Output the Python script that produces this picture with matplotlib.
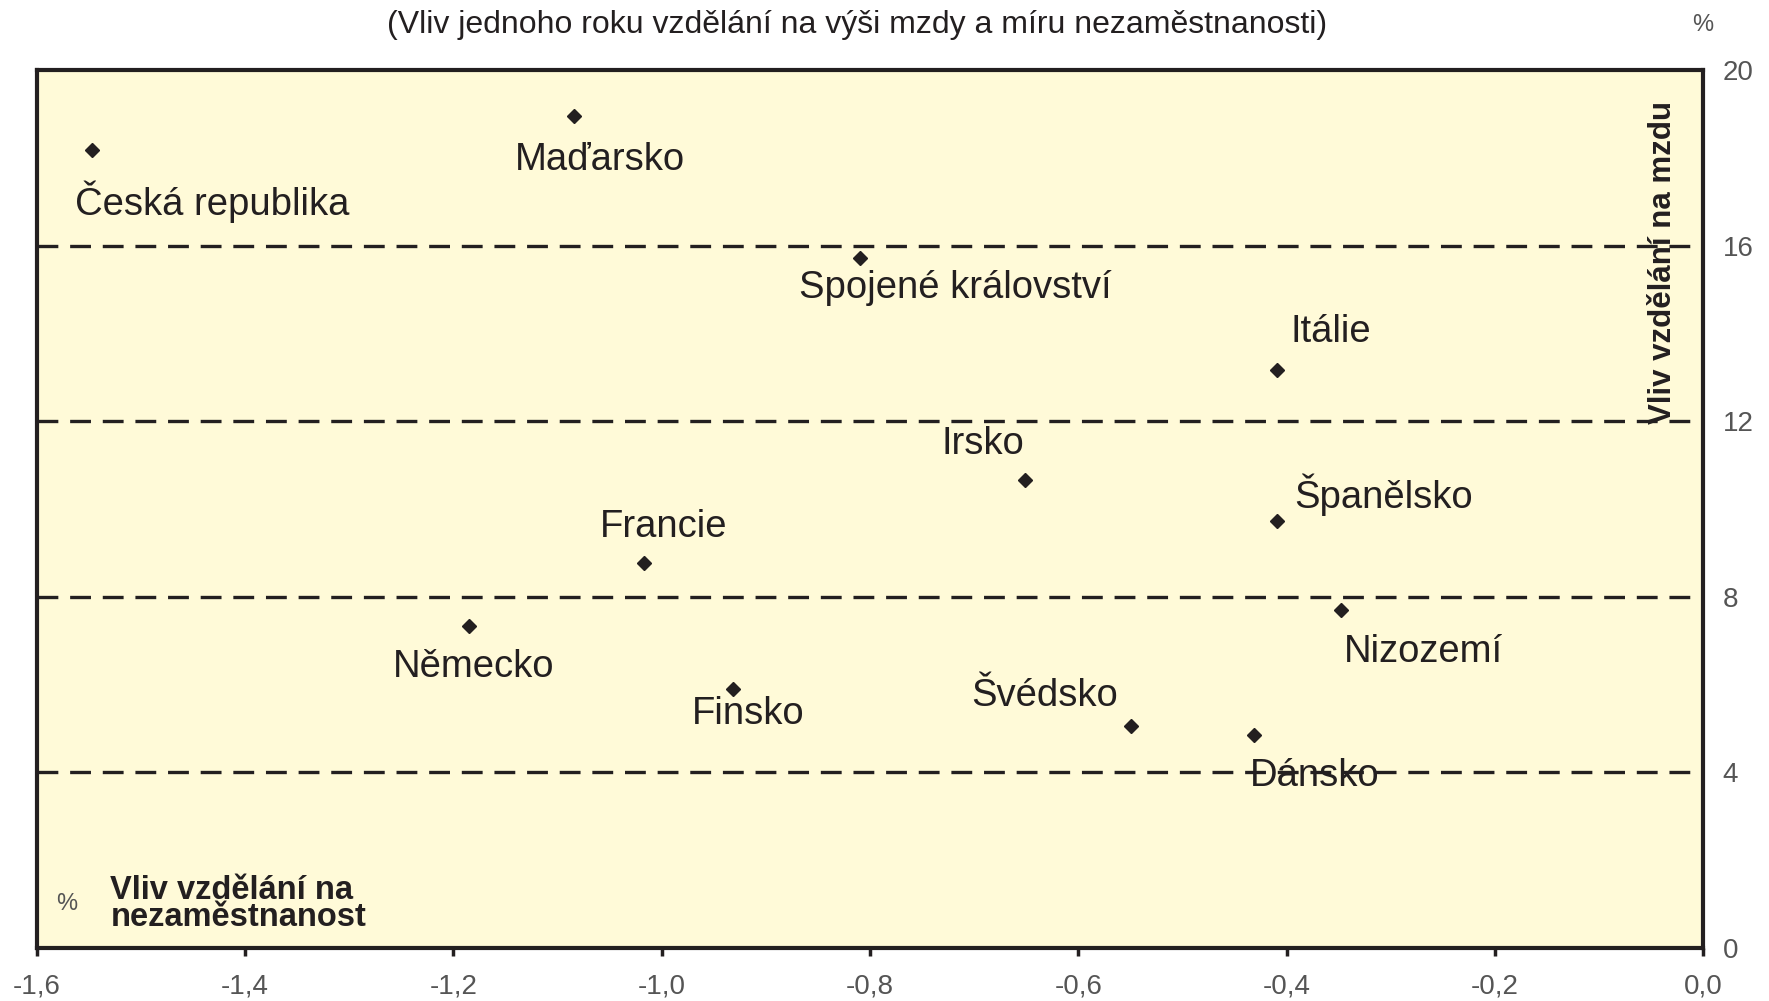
import matplotlib
matplotlib.use('Agg')
import matplotlib.pyplot as plt

plt.rcParams['font.family'] = ['Liberation Sans', 'DejaVu Sans']
plt.rcParams['lines.scale_dashes'] = False

# ——— Data ————————————————————————————————————————————————————————————————
countries = ['Česká republika', 'Maďarsko', 'Spojené království', 'Itálie', 'Irsko',
             'Španělsko', 'Francie', 'Nizozemí', 'Německo', 'Finsko', 'Švédsko', 'Dánsko']
unemp_effect = [-1.547, -1.084, -0.810, -0.409, -0.651, -0.409, -1.017, -0.348,
                -1.185, -0.932, -0.549, -0.431]
wage_effect = [18.17, 18.95, 15.71, 13.16, 10.67, 9.72, 8.77, 7.71, 7.33, 5.89, 5.06, 4.86]

# label offsets in pixels (label centre relative to the point)
label_dx = [120, 26, 96, 54, -42, 106, 20, 83, 5, 16, -87, 60]
label_dy = [-51, -44, -30, 38, 36, 27, 36, -42, -41, -25, 30, -41]

x_ticks = [-1.6, -1.4, -1.2, -1.0, -0.8, -0.6, -0.4, -0.2, 0.0]
x_labels = ['-1,6', '-1,4', '-1,2', '-1,0', '-0,8', '-0,6', '-0,4', '-0,2', '0,0']
y_ticks = [0, 4, 8, 12, 16, 20]
grid_levels = [4, 8, 12, 16]

INK = '#231f20'
BG = '#fffad8'
TICK = '#555555'

fig = plt.figure(figsize=(17.69, 10.01), dpi=100)
ax = fig.add_axes([0.0209, 0.0529, 0.9418, 0.8771])
ax.set_facecolor(BG)

for lvl in grid_levels:
    ax.axhline(lvl, color=INK, lw=2.4, linestyle=(0, (15, 8.5)), zorder=1)

ax.plot(unemp_effect, wage_effect, 'D', ms=7.5, color=INK, zorder=3, linestyle='none')

for name, x, y, dx, dy in zip(countries, unemp_effect, wage_effect, label_dx, label_dy):
    ax.annotate(name, (x, y), xytext=(dx, dy), textcoords='offset pixels',
                ha='center', va='center', fontsize=27.5, color=INK, zorder=4)

ax.set_xlim(-1.6, 0.0)
ax.set_ylim(0, 20)
ax.set_xticks(x_ticks)
ax.set_xticklabels(x_labels)
ax.set_yticks(y_ticks)
ax.yaxis.tick_right()

for lbl in ax.get_xticklabels() + ax.get_yticklabels():
    lbl.set_fontsize(20)
    lbl.set_color(TICK)

ax.tick_params(axis='x', direction='out', length=6, width=2.5, color=INK, pad=12)
ax.tick_params(axis='y', length=0, pad=14)

for side, sp in ax.spines.items():
    sp.set_color(INK)
    sp.set_linewidth(3)

# right axis title, inside the plot area
ax.text(0.976, 0.781, 'Vliv vzdělání na mzdu', transform=ax.transAxes, rotation=90,
        ha='center', va='center', fontsize=22.5, fontweight='bold', color=INK)

# bottom-left x-axis title
ax.text(0.018, 0.05, '%', transform=ax.transAxes, ha='center', va='center',
        fontsize=17, color=TICK)
ax.text(0.044, 0.05, 'Vliv vzdělání na\nnezaměstnanost', transform=ax.transAxes,
        ha='left', va='center', fontsize=23.5, fontweight='bold',
        color=INK, linespacing=0.85)

# subtitle and unit
fig.text(0.4845, 0.975, '(Vliv jednoho roku vzdělání na výši mzdy a míru nezaměstnanosti)',
         ha='center', va='center', fontsize=23, color=INK)
fig.text(0.9627, 0.975, '%', ha='center', va='center', fontsize=17, color=TICK)

fig.savefig('out.png', dpi=100, facecolor='white')
